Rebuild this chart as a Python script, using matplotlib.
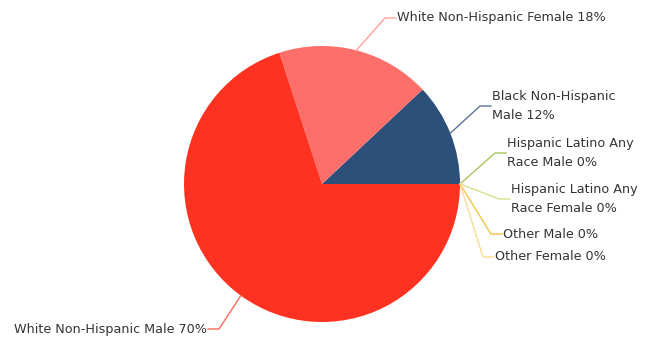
import numpy as np
import matplotlib
matplotlib.use("Agg")
import matplotlib.pyplot as plt

# Demographic breakdown
categories = [
    "Black Non-Hispanic Male",
    "White Non-Hispanic Female",
    "White Non-Hispanic Male",
    "Hispanic Latino Any Race Male",
    "Hispanic Latino Any Race Female",
    "Other Male",
    "Other Female",
]
values = [12, 18, 70, 0, 0, 0, 0]
label_texts = [
    "Black Non-Hispanic\nMale 12%",
    "White Non-Hispanic Female 18%",
    "White Non-Hispanic Male 70%",
    "Hispanic Latino Any\nRace Male 0%",
    "Hispanic Latino Any\nRace Female 0%",
    "Other Male 0%",
    "Other Female 0%",
]
colors = ["#2c5079", "#ff6f69", "#ff3221", "#a8c45c", "#d8e08e", "#f5c445", "#f8dc96"]
line_colors = ["#5a7696", "#ffa09b", "#ff6a5e", "#a8c45c", "#d8e08e", "#f5c445", "#f8dc96"]

W, H = 654, 338
fig = plt.figure(figsize=(W / 100, H / 100), dpi=100)
ax = fig.add_axes([0, 0, 1, 1])

cx, cy, r = 322, H - 184, 138
wedges, _ = ax.pie(values, colors=colors, startangle=0, counterclock=True,
                   center=(cx, cy), radius=r, frame=True,
                   wedgeprops=dict(linewidth=0))
ax.set_xlim(0, W)
ax.set_ylim(0, H)
ax.set_aspect("equal")
ax.axis("off")

# Elbow point of each connector and text side (+1 right, -1 left), in pixels from top-left
elbows = [(480, 106, 1), (385, 18, 1), (219, 329, -1),
          (495, 153, 1), (499, 199, 1), (491, 234, 1), (483, 257, 1)]
stub = 11

for w, text, lc, (ex, ey, side) in zip(wedges, label_texts, line_colors, elbows):
    mid = np.deg2rad((w.theta1 + w.theta2) / 2)
    sx, sy = cx + r * np.cos(mid), cy + r * np.sin(mid)
    ey = H - ey
    tx = ex + side * stub
    ax.plot([sx, ex, tx], [sy, ey, ey], color=lc, lw=1, solid_joinstyle="miter")
    ax.text(tx + side * 1, ey, text, ha="left" if side > 0 else "right",
            va="center", fontsize=9.2, color="#333333", linespacing=1.55,
            family="DejaVu Sans")

fig.savefig("out.png", dpi=100, facecolor="white")
